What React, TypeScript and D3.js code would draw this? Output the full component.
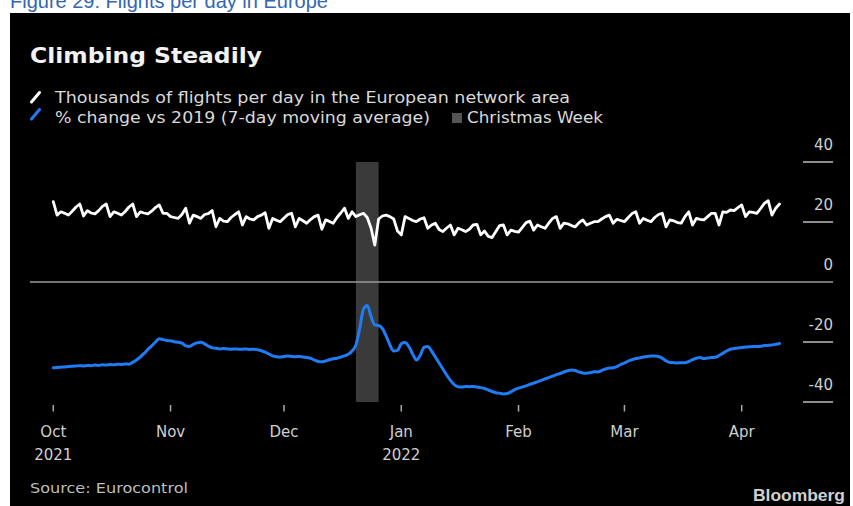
import React from "react";
import * as d3 from "d3";

// ---- Data (daily, starting 1 Oct 2021) ----
const startDate = new Date(2021, 9, 1);

// Thousands of flights per day in the European network area
const flightsK: number[] = [
  26.8, 22.3, 23.4, 22.9, 22.3, 23.6, 25.0,
  26.0, 22.0, 23.8, 23.0, 22.7, 23.8, 25.2,
  26.0, 21.8, 23.4, 22.9, 22.3, 23.5, 25.0,
  26.0, 21.8, 23.4, 23.0, 22.7, 23.6, 24.8,
  25.7, 22.9, 22.9, 21.8, 21.5, 21.2, 22.5,
  24.6, 19.6, 22.3, 21.8, 21.2, 22.5, 22.8,
  23.8, 18.4, 21.2, 20.3, 20.1, 21.5, 22.5,
  23.4, 19.0, 21.8, 21.0, 20.7, 21.8, 22.3,
  23.1, 17.9, 21.2, 20.6, 20.1, 21.3, 22.5,
  22.9, 18.4, 21.2, 20.4, 19.6, 20.8, 21.8,
  22.3, 17.6, 20.7, 20.2, 19.6, 21.5, 23.0,
  24.6, 21.2, 23.4, 21.8, 22.4, 22.9, 21.5,
  18.0, 12.3, 21.0, 22.0, 22.3, 21.8, 21.0,
  17.0, 15.7, 21.8, 21.2, 20.5, 20.1, 21.0,
  21.4, 17.9, 19.0, 19.6, 17.5, 16.8, 18.0,
  19.0, 15.7, 17.9, 17.4, 16.8, 17.6, 19.0,
  19.2, 15.7, 17.0, 15.2, 14.8, 16.8, 18.8,
  19.0, 15.7, 17.3, 16.9, 16.6, 18.2, 19.8,
  20.3, 17.3, 19.0, 18.4, 17.9, 19.6, 21.2,
  21.8, 17.9, 19.6, 19.4, 18.8, 18.4, 19.8,
  20.7, 19.0, 19.6, 20.1, 20.1, 21.0, 21.8,
  22.3, 19.6, 20.9, 20.5, 20.1, 21.5, 22.8,
  23.4, 19.6, 21.2, 20.6, 20.1, 21.5, 22.5,
  22.9, 18.4, 20.7, 20.4, 19.8, 19.6, 21.8,
  23.4, 19.0, 21.2, 20.9, 20.7, 21.8, 22.9,
  22.9, 19.0, 23.4, 23.2, 24.0, 23.8, 24.8,
  25.7, 21.8, 23.4, 23.2, 22.9, 24.5, 26.2,
  27.1, 22.3, 24.6, 26.0,
];

// % change vs 2019 (7-day moving average)
const pctVs2019: number[] = [
  -28.6, -28.5, -28.4, -28.3, -28.2, -28.1, -28.0,
  -27.9, -28.0, -27.8, -27.9, -27.7, -27.8, -27.6,
  -27.7, -27.5, -27.6, -27.4, -27.5, -27.3, -27.4,
  -26.8, -26.0, -25.0, -23.8, -22.5, -21.3, -20.0,
  -18.9, -19.2, -19.5, -19.6, -19.9, -20.1, -20.4,
  -21.3, -21.5, -20.8, -20.3, -20.1, -20.6, -21.4,
  -21.9, -22.1, -22.3, -22.2, -22.3, -22.4, -22.3,
  -22.4, -22.4, -22.3, -22.5, -22.4, -22.6, -22.9,
  -23.4, -24.0, -24.6, -24.9, -25.0, -24.8, -24.7,
  -24.8, -24.9, -24.8, -25.0, -25.2, -25.4, -26.0,
  -26.5, -26.6, -26.3, -25.9, -25.6, -25.4, -25.0,
  -24.6, -24.1, -23.0, -21.0, -15.5, -9.0, -7.8,
  -11.5, -14.3, -14.5, -15.5, -18.0, -21.0, -23.0,
  -22.8, -20.6, -20.2, -21.5, -24.0, -26.0, -24.5,
  -21.8, -21.5, -23.0, -25.0, -27.0, -29.0, -31.0,
  -32.8, -34.2, -34.9, -35.0, -34.8, -34.9, -34.8,
  -35.0, -35.2, -35.5, -36.0, -36.5, -36.9, -37.1,
  -37.3, -37.2, -36.6, -35.9, -35.4, -35.0, -34.6,
  -34.1, -33.7, -33.3, -32.8, -32.3, -31.9, -31.4,
  -30.9, -30.5, -30.0, -29.6, -29.3, -29.5, -30.0,
  -30.3, -30.4, -30.2, -29.9, -30.0, -29.5, -29.0,
  -28.7, -28.6, -28.2, -27.5, -27.0, -26.4, -25.9,
  -25.5, -25.3, -25.0, -24.8, -24.7, -24.7, -24.8,
  -25.4, -26.3, -26.8, -26.9, -27.0, -26.9, -26.9,
  -26.5, -25.9, -25.4, -25.2, -25.5, -25.3, -25.2,
  -25.1, -24.5, -23.8, -23.0, -22.4, -22.2, -22.0,
  -21.8, -21.7, -21.6, -21.5, -21.5, -21.4, -21.2,
  -21.1, -21.0, -20.8, -20.5,
];

const christmasWeek: [Date, Date] = [new Date(2021, 11, 20), new Date(2021, 11, 26)];

const monthTicks: Date[] = [
  new Date(2021, 9, 1), new Date(2021, 10, 1), new Date(2021, 11, 1),
  new Date(2022, 0, 1), new Date(2022, 1, 1), new Date(2022, 2, 1), new Date(2022, 3, 1),
];
const monthLabels: string[] = ["Oct", "Nov", "Dec", "Jan", "Feb", "Mar", "Apr"];
const yearLabels: string[] = ["2021", "", "", "2022", "", "", ""];
const yTicks: number[] = [40, 20, 0, -20, -40];

const dayDate = (i: number) => new Date(startDate.getFullYear(), startDate.getMonth(), startDate.getDate() + i);

export default function App() {
  const W = 853, H = 506;
  const x = d3.scaleTime()
    .domain([new Date(2021, 9, 1), new Date(2022, 3, 1)])
    .range([53.3, 741.7]);
  const y = d3.scaleLinear().domain([-40, 40]).range([402, 162]);

  const white = d3.line<number>()
    .x((_, i) => x(dayDate(i)))
    .y((v) => y(v))
    .curve(d3.curveLinear)(flightsK) || "";
  const blue = d3.line<number>()
    .x((_, i) => x(dayDate(i)))
    .y((v) => y(v))
    .curve(d3.curveMonotoneX)(pctVs2019) || "";

  const font = "'DejaVu Sans', sans-serif";

  return (
    <svg width={W} height={H} style={{ position: "absolute", left: 0, top: 0, background: "#fff" }}>
      <text x={10} y={8} fontFamily="'Liberation Sans', Arial, sans-serif" fontSize={20} fill="#3366b3">
        Figure 29: Flights per day in Europe
      </text>
      <rect x={10} y={13} width={840} height={493} fill="#000" />
      <text x={30} y={63} fontFamily={font} fontWeight="bold" fontSize={21} fill="#f2f2f2" textLength={232} lengthAdjust="spacingAndGlyphs">
        Climbing Steadily
      </text>

      {/* Legend */}
      <line x1={31.5} y1={102} x2={39.5} y2={92.5} stroke="#fff" strokeWidth={3} strokeLinecap="round" />
      <text x={55} y={102.5} fontFamily={font} fontSize={15.5} fill="#d9d9d9" textLength={515} lengthAdjust="spacingAndGlyphs">
        Thousands of flights per day in the European network area
      </text>
      <line x1={31.5} y1={119} x2={39.5} y2={109.5} stroke="#1f7cf5" strokeWidth={3} strokeLinecap="round" />
      <text x={55} y={122.5} fontFamily={font} fontSize={15.5} fill="#d9d9d9" textLength={375} lengthAdjust="spacingAndGlyphs">
        % change vs 2019 (7-day moving average)
      </text>
      <rect x={452} y={113} width={10} height={10} fill="#555" />
      <text x={467} y={122.5} fontFamily={font} fontSize={15.5} fill="#d9d9d9" textLength={136} lengthAdjust="spacingAndGlyphs">
        Christmas Week
      </text>

      {/* Christmas shading */}
      <rect x={x(christmasWeek[0])} y={y(40)} width={x(christmasWeek[1]) - x(christmasWeek[0])} height={y(-40) - y(40)} fill="#3a3a3a" />

      {/* Zero line */}
      <line x1={30} x2={833} y1={y(0)} y2={y(0)} stroke="#9a9a9a" strokeWidth={1.5} />

      {/* Y axis ticks and labels */}
      {yTicks.map((t) => (
        <g key={t}>
          {t !== 0 && <line x1={803} x2={833} y1={y(t)} y2={y(t)} stroke="#bdbdbd" strokeWidth={1.5} />}
          <text x={833} y={y(t) - 12} textAnchor="end" fontFamily={font} fontSize={15} fill="#cfcfcf">
            {t}
          </text>
        </g>
      ))}

      {/* X axis */}
      {monthTicks.map((d, i) => (
        <g key={i}>
          <line x1={x(d)} x2={x(d)} y1={405} y2={411.5} stroke="#aaa" strokeWidth={1.5} />
          <text x={x(d)} y={436.5} textAnchor="middle" fontFamily={font} fontSize={15} fill="#cfcfcf">
            {monthLabels[i]}
          </text>
          {yearLabels[i] && (
            <text x={x(d)} y={460} textAnchor="middle" fontFamily={font} fontSize={15} fill="#cfcfcf">
              {yearLabels[i]}
            </text>
          )}
        </g>
      ))}

      {/* Lines */}
      <path d={white} fill="none" stroke="#fff" strokeWidth={2.8} strokeLinejoin="round" strokeLinecap="round" />
      <path d={blue} fill="none" stroke="#1f7cf5" strokeWidth={3} strokeLinejoin="round" strokeLinecap="round" />

      {/* Footer */}
      <text x={30} y={493} fontFamily={font} fontSize={14} fill="#bdbdbd" textLength={158} lengthAdjust="spacingAndGlyphs">
        Source: Eurocontrol
      </text>
      <text x={845} y={501} textAnchor="end" fontFamily="'Liberation Sans', Arial, sans-serif" fontWeight="bold" fontSize={16} fill="#d0d0d0" textLength={92} lengthAdjust="spacingAndGlyphs">
        Bloomberg
      </text>
    </svg>
  );
}
